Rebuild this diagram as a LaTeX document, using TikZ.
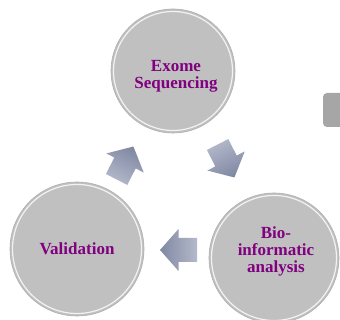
\documentclass[tikz,border=0pt]{standalone}
\usepackage{fontspec}
\setmainfont{Liberation Serif}
\definecolor{circfill}{RGB}{192,192,192}
\definecolor{circedge}{RGB}{175,175,175}
\definecolor{txtpurple}{RGB}{128,0,128}
\definecolor{arrdark}{RGB}{128,136,163}
\definecolor{arrlight}{RGB}{180,185,202}
\definecolor{boxgray}{RGB}{166,166,166}
\newcommand{\blkarrow}[4]{%
  \shade[top color=arrdark, bottom color=arrlight, shading angle=#4, shift={(#1,#2)}, rotate=#3]
    (-18.5,-12) -- (0,-12) -- (0,-21) -- (18.5,0) -- (0,21) -- (0,12) -- (-18.5,12) -- cycle;}
\begin{document}
\begin{tikzpicture}[x=1pt,y=1pt,
  stepcirc/.style={circle, fill=circfill, draw=circedge, line width=0.6pt, inner sep=0pt},
  steptext/.style={font=\bfseries\fontsize{17}{17}\selectfont, text=txtpurple, align=center}]
\useasboundingbox (0,0) rectangle (340,320);
% side box
\fill[boxgray, rounded corners=4pt] (323,193) rectangle (350,227);
% circles
\node[stepcirc, minimum size=124pt] (exome) at (173,249) {};
\node[stepcirc, minimum size=134pt] (valid) at (77,71) {};
\node[stepcirc, minimum size=130pt] (bio) at (274,62) {};
\draw[white, line width=1.2pt, opacity=0.8] (exome.center) circle (59.5pt);
\draw[white, line width=1.2pt, opacity=0.8] (valid.center) circle (64.5pt);
\draw[white, line width=1.2pt, opacity=0.8] (bio.center) circle (62.5pt);
% texts
\node[steptext] (t1) at (176,244) {Exome\\Sequencing};
\node[steptext] (t2) at (77,71) {Validation};
\node[steptext] (t3) at (276,69) {Bio-\\informatic\\analysis};
% arrows
\blkarrow{125}{157}{63}{-27}
\blkarrow{226}{159}{-63}{-153}
\blkarrow{178.5}{70}{180}{90}
\end{tikzpicture}
\end{document}
